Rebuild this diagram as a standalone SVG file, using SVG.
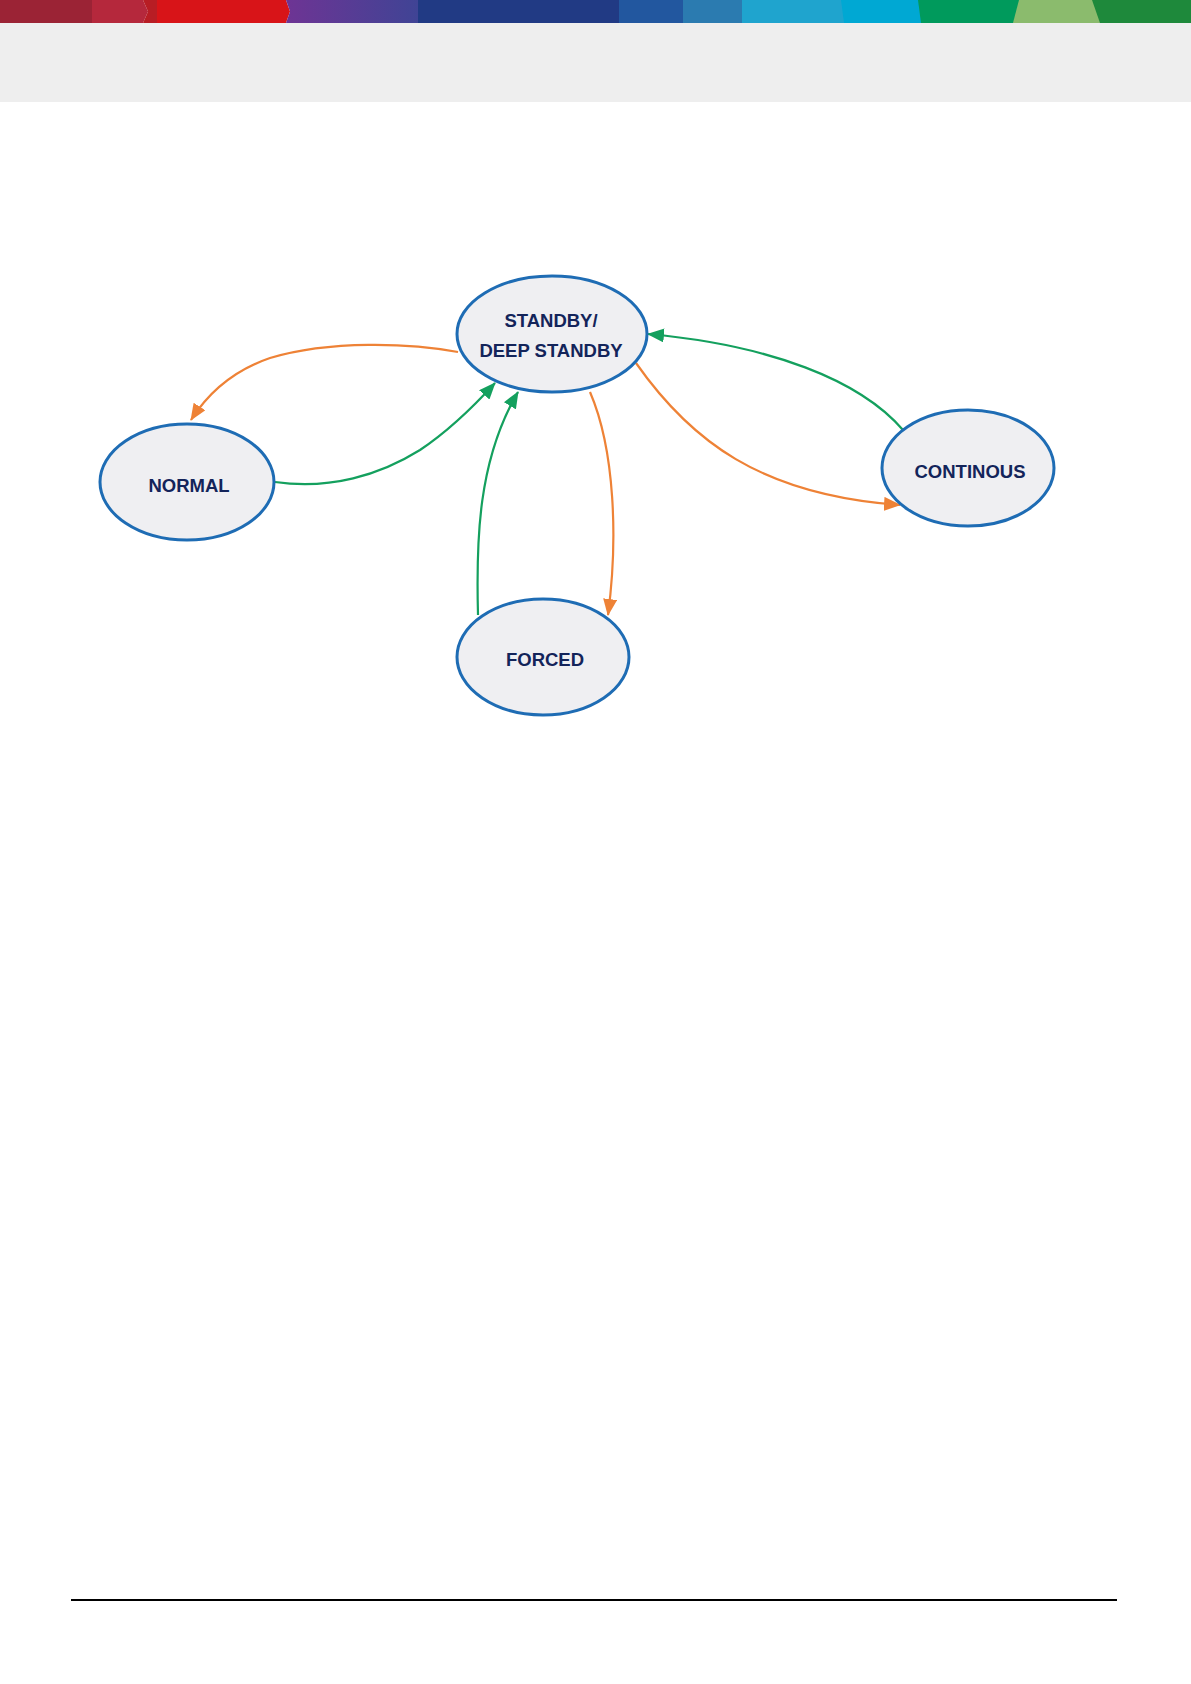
<svg xmlns="http://www.w3.org/2000/svg" width="1191" height="1684" viewBox="0 0 1191 1684">
<style>
.node ellipse{fill:#EFEFF2;stroke:#1E6CB4;stroke-width:3}
.node text{font-family:"Liberation Sans",Arial,sans-serif;font-weight:bold;font-size:18.5px;fill:#13245A;text-anchor:middle}
.conn path{fill:none;stroke-width:2.2}
.or{stroke:#EE8236}
.gr{stroke:#14A05E}
</style>
<defs>
<linearGradient id="pg" x1="0" x2="1" y1="0" y2="0">
<stop offset="0" stop-color="#6E3494"/><stop offset="1" stop-color="#3F4495"/>
</linearGradient>
<marker id="ao" markerUnits="userSpaceOnUse" markerWidth="18" markerHeight="14" refX="16" refY="7" orient="auto">
<path d="M0,0 L17,7 L0,14 Z" fill="#EE8236"/>
</marker>
<marker id="ag" markerUnits="userSpaceOnUse" markerWidth="18" markerHeight="14" refX="16" refY="7" orient="auto">
<path d="M0,0 L17,7 L0,14 Z" fill="#14A05E"/>
</marker>
</defs>
<rect x="0" y="0" width="1191" height="1684" fill="#FFFFFF"/>
<g id="header">
<rect x="0" y="23" width="1191" height="79" fill="#EEEEEE"/>
<rect x="0" y="0" width="96" height="23" fill="#9B2335"/>
<polygon points="92,0 143,0 148,11.5 143,23 92,23" fill="#B5283C"/>
<polygon points="143,0 160,0 160,23 143,23 148,11.5" fill="#B81D24"/>
<polygon points="157,0 286,0 290,11.5 286,23 157,23" fill="#D81418"/>
<polygon points="286,0 420,0 420,23 286,23 290,11.5" fill="url(#pg)"/>
<rect x="418" y="0" width="204" height="23" fill="#213A84"/>
<rect x="619" y="0" width="67" height="23" fill="#22579F"/>
<rect x="683" y="0" width="62" height="23" fill="#2B7BB0"/>
<rect x="742" y="0" width="104" height="23" fill="#1FA4CE"/>
<polygon points="841,0 922,0 925,23 844,23" fill="#00A8D3"/>
<polygon points="918,0 1030,0 1030,23 921,23" fill="#009A5C"/>
<polygon points="1080,0 1191,0 1191,23 1080,23" fill="#1E893B"/>
<polygon points="1019,0 1092,0 1100,23 1013,23" fill="#8BBB6D"/>
</g>
<g id="connectors" class="conn">
<path class="or" d="M458,352 C410,343 330,340 270,358 C235,370 210,390 191,420" marker-end="url(#ao)"/>
<path class="gr" d="M275,482 C330,490 380,475 420,450 C450,430 475,405 495,383" marker-end="url(#ag)"/>
<path class="gr" d="M478,615 C476,540 478,460 518,392" marker-end="url(#ag)"/>
<path class="or" d="M590,392 C615,450 618,540 608,615" marker-end="url(#ao)"/>
<path class="or" d="M636,363 C690,440 760,495 900,505" marker-end="url(#ao)"/>
<path class="gr" d="M903,430 C860,380 770,345 648,334" marker-end="url(#ag)"/>
</g>
<g id="node-standby" class="node">
<ellipse cx="552" cy="334" rx="95" ry="58"/>
<text x="551" y="327">STANDBY/</text>
<text x="551" y="357">DEEP STANDBY</text>
</g>
<g id="node-normal" class="node">
<ellipse cx="187" cy="482" rx="87" ry="58"/>
<text x="189" y="492">NORMAL</text>
</g>
<g id="node-continous" class="node">
<ellipse cx="968" cy="468" rx="86" ry="58"/>
<text x="970" y="478">CONTINOUS</text>
</g>
<g id="node-forced" class="node">
<ellipse cx="543" cy="657" rx="86" ry="58"/>
<text x="545" y="666">FORCED</text>
</g>
<line x1="71" y1="1600" x2="1117" y2="1600" stroke="#000000" stroke-width="2"/>
</svg>
